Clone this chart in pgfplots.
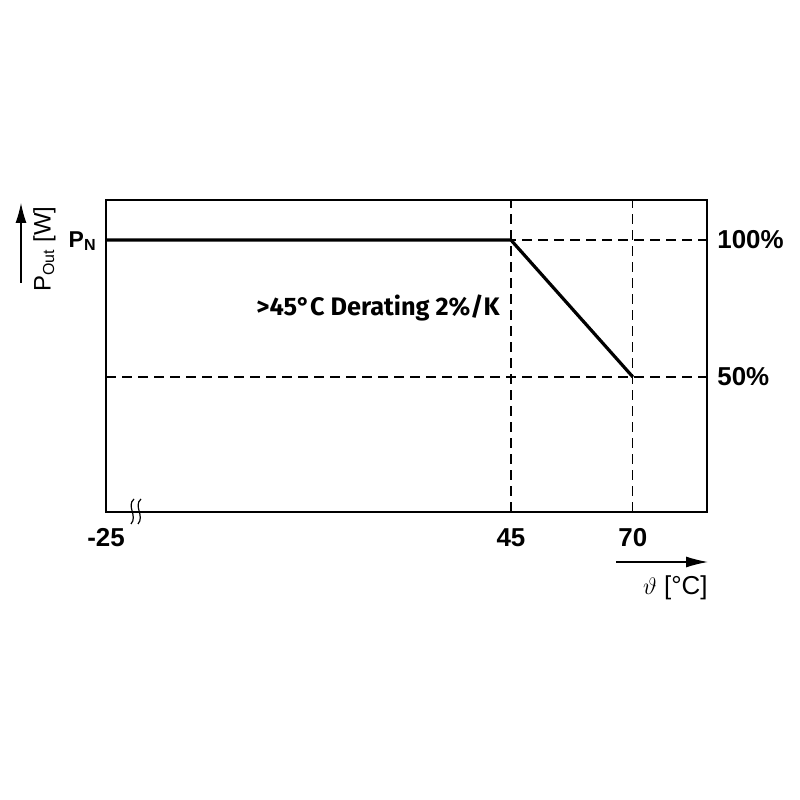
\documentclass[border=0pt]{standalone}
\usepackage{pgfplots}
\pgfplotsset{compat=1.18}
\usetikzlibrary{arrows.meta}
\usepackage{fontspec}
\setmainfont{Liberation Sans}
\newfontfamily\fira{Fira Sans}
\begin{document}
\begin{tikzpicture}[x=0.5bp,y=0.5bp]
% page frame, pixel units of the reference (y measured from the bottom)
\path (0,0) rectangle (800,800);
\coordinate (O) at (106,288);
\begin{axis}[
  at={(O)}, anchor=south west,
  scale only axis, width=300.5bp, height=156bp,
  xmin=-38, xmax=85.2, ymin=0.7, ymax=114.6,
  xtick={-38,45,70}, xticklabels={-25,45,70},
  ytick={50,100}, yticklabels={50\%,100\%},
  ytick pos=right, xtick pos=bottom,
  major tick length=0pt,
  tick label style={font=\fontsize{13}{15}\selectfont\bfseries, inner sep=0pt},
  xticklabel style={anchor=north, text height=9.3bp, text depth=0pt, yshift=-8bp},
  yticklabel style={anchor=west, xshift=5bp},
  grid=major,
  grid style={black, line width=0.6bp, dash pattern=on 5bp off 3bp},
  axis line style={line width=0.6bp},
  clip=false,
]
\addplot[black, line width=1.6bp, line join=miter] coordinates {
  (-38,100) (45,100) (70,50)
};
\end{axis}
% axis break mark
\draw[line width=0.6bp] (134,301) .. controls (126,294) and (138,284) .. (131,276);
\draw[line width=0.6bp] (141,301) .. controls (133,294) and (145,284) .. (138,276);
% arrows and axis titles
\draw[-{Latex[length=11bp,width=5.5bp]}, line width=0.6bp] (616,238) -- (708,238);
\node[anchor=east, inner sep=0pt, font=\fontsize{13}{15}\selectfont] at (708,212) {$\vartheta$ [°C]};
\draw[-{Latex[length=10bp,width=5.5bp]}, line width=0.6bp] (21,517) -- (21,597);
\node[rotate=90, anchor=south, inner sep=0pt, font=\fontsize{12}{14}\selectfont] at (56,551) {P\textsubscript{Out} [W]};
\node[anchor=east, inner sep=0pt, font=\fontsize{11.5}{13}\selectfont\bfseries] at (97,559) {P\textsubscript{N}};
\node[font=\fira\fontsize{12.7}{14}\selectfont\bfseries] at (378,492) {>45°C Derating 2\%/K};
\end{tikzpicture}
\end{document}
